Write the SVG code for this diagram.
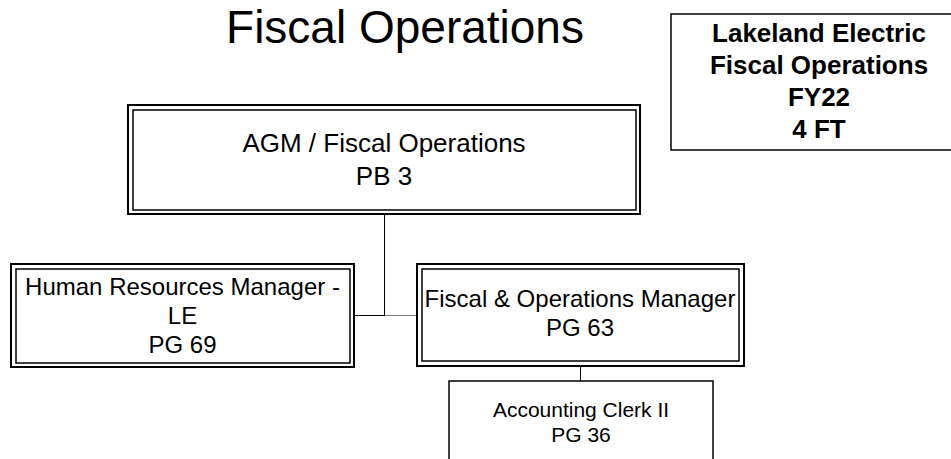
<svg xmlns="http://www.w3.org/2000/svg" width="951" height="459" viewBox="0 0 951 459">
<style>
text{font-family:"Liberation Sans",Arial,sans-serif;fill:#000;text-anchor:middle}
.outer{fill:#fff;stroke:#000;stroke-width:2}
.inner{fill:none;stroke:#000;stroke-width:1.5}
.single{fill:#fff;stroke:#000;stroke-width:1.5}
.conn{stroke:#000;stroke-width:1;fill:none}
.legend{font-weight:bold;font-size:26px}
</style>
<rect width="951" height="459" fill="#fff"/>
<text x="405" y="43" style="font-size:46px">Fiscal Operations</text>
<g id="legend">
<rect class="single" x="671" y="14" width="300" height="136"/>
<text class="legend" x="819" y="42">Lakeland Electric</text>
<text class="legend" x="819" y="74">Fiscal Operations</text>
<text class="legend" x="819" y="106">FY22</text>
<text class="legend" x="819" y="138">4 FT</text>
</g>
<g id="connectors">
<line class="conn" x1="384.5" y1="214" x2="384.5" y2="315.5"/>
<line class="conn" x1="354" y1="315.5" x2="385" y2="315.5"/>
<line x1="385" y1="315.5" x2="417" y2="315.5" stroke="#808080" stroke-width="1"/>
<line class="conn" x1="580.5" y1="366" x2="580.5" y2="381"/>
</g>
<g id="agm">
<rect class="outer" x="128" y="105" width="512" height="109"/>
<rect class="inner" x="133" y="110" width="503" height="100"/>
<text x="384" y="152" style="font-size:26px">AGM / Fiscal Operations</text>
<text x="384" y="185" style="font-size:26px">PB 3</text>
</g>
<g id="hr">
<rect class="outer" x="11" y="264" width="343" height="103"/>
<rect class="inner" x="16" y="269" width="334" height="94"/>
<text x="182.5" y="295" style="font-size:24px">Human Resources Manager -</text>
<text x="182.5" y="324" style="font-size:24px">LE</text>
<text x="182.5" y="353" style="font-size:24px">PG 69</text>
</g>
<g id="fiscal">
<rect class="outer" x="417" y="264" width="327" height="102"/>
<rect class="inner" x="422" y="269" width="317" height="92"/>
<text x="580" y="307" style="font-size:24px">Fiscal &amp; Operations Manager</text>
<text x="580" y="336" style="font-size:24px">PG 63</text>
</g>
<g id="clerk">
<rect class="single" x="449" y="381" width="264" height="90"/>
<text x="581" y="417" style="font-size:21px">Accounting Clerk II</text>
<text x="581" y="442" style="font-size:21px">PG 36</text>
</g>
</svg>
